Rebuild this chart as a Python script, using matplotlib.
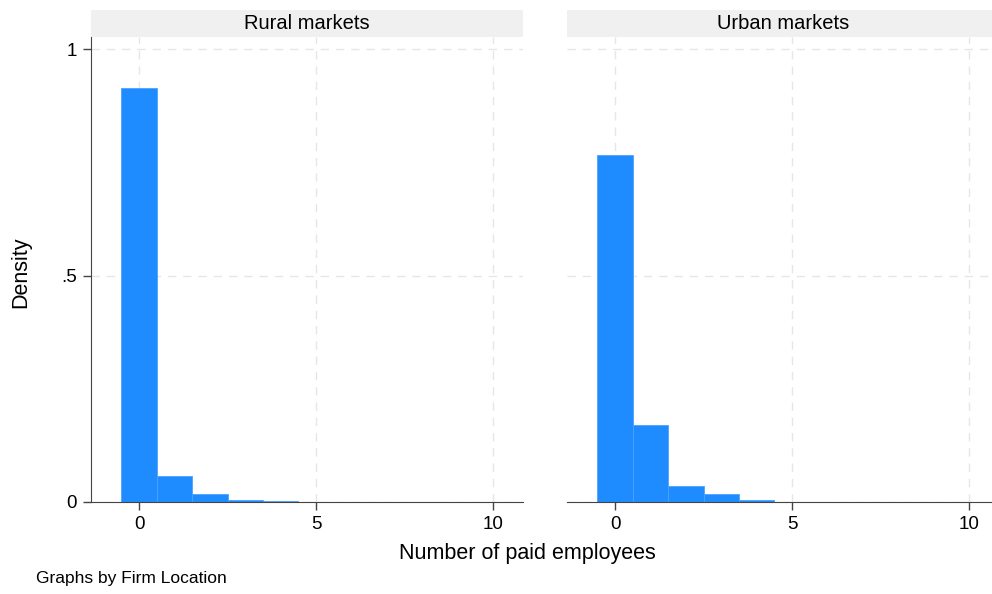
import matplotlib
matplotlib.use("Agg")
import matplotlib.pyplot as plt
from matplotlib.patches import Rectangle

plt.rcParams['font.family'] = ['Liberation Sans', 'DejaVu Sans']

# histogram data (density per bin, bins of width 1 centred on integers)
bins = [0, 1, 2, 3, 4, 5, 6, 7, 8, 9, 10]
rural = [0.913, 0.057, 0.018, 0.0045, 0.0015, 0.0007, 0.0, 0.0006, 0.0006, 0.0, 0.0]
urban = [0.766, 0.169, 0.035, 0.018, 0.0035, 0.0, 0.0, 0.0006, 0.0006, 0.0, 0.0006]
panels = ["Rural markets", "Urban markets"]
xticks = [0, 5, 10]
yticks = [0, 0.5, 1]
ylabels = ["0", ".5", "1"]

fig = plt.figure(figsize=(9.92, 5.94), dpi=100)
W, H = 992, 594
bottom, top = 502, 37
pw = 432
lefts = [91, 567]
strip_h = 27

bar_color = "#1e8cff"
edge_color = "#4aa2ff"

for i, (name, vals) in enumerate(zip(panels, [rural, urban])):
    ax = fig.add_axes([lefts[i] / W, 1 - bottom / H, pw / W, (bottom - top) / H])
    ax.bar(bins, vals, width=1, color=bar_color, edgecolor=edge_color, linewidth=0.6, zorder=2)
    ax.set_xlim(-1.36, 10.85)
    ax.set_ylim(0, 1.0265)
    ax.set_xticks(xticks)
    ax.set_xticklabels([str(t) for t in xticks], fontsize=13.5)
    ax.set_yticks(yticks)
    ax.grid(True, linestyle=(0, (6, 5)), color="#e6e6e6", linewidth=1, zorder=0)
    for s in ["top", "right"]:
        ax.spines[s].set_visible(False)
    ax.spines["bottom"].set_color("#444444")
    ax.spines["left"].set_color("#444444")
    ax.tick_params(axis="x", length=6, width=1, color="#444444", pad=4)
    if i == 0:
        ax.set_yticklabels(ylabels, fontsize=13.5)
        ax.tick_params(axis="y", length=6, width=1, color="#444444", pad=4)
    else:
        ax.spines["left"].set_visible(False)
        ax.tick_params(axis="y", length=0, labelleft=False)
    # header strip
    sh = strip_h / (bottom - top)
    ax.add_patch(Rectangle((0, 1), 1, sh, transform=ax.transAxes, clip_on=False,
                           facecolor="#f0f0f0", edgecolor="none"))
    ax.text(0.5, 1 + sh / 2, name, transform=ax.transAxes, ha="center", va="center",
            fontsize=14.5)

fig.text(21 / W, 1 - 272 / H, "Density", ha="center", va="center", rotation=90, fontsize=15.5)
fig.text(527 / W, 1 - 553 / H, "Number of paid employees", ha="center", va="center", fontsize=15.5)
fig.text(36 / W, 1 - 578 / H, "Graphs by Firm Location", ha="left", va="center", fontsize=12.5)

fig.savefig("out.png", dpi=100)
